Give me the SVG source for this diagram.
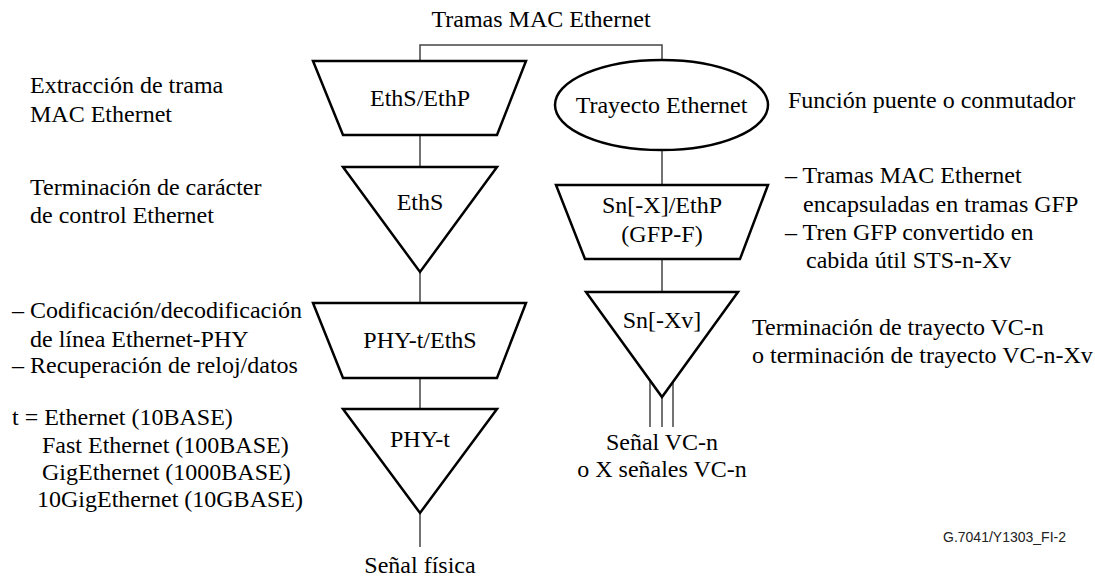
<svg xmlns="http://www.w3.org/2000/svg" width="1095" height="578" viewBox="0 0 1095 578">
<style>
.s{fill:#fff;stroke:#000;stroke-width:2.5;stroke-linejoin:miter}
.c{fill:none;stroke:#444;stroke-width:1.5}
.t{font-family:'Liberation Serif',Tinos,'Times New Roman',Times,'DejaVu Serif','Noto Serif',serif;font-size:24px;fill:#000}
.m{text-anchor:middle}
.f{font-family:'Liberation Sans',Arial,sans-serif;font-size:14px;fill:#222}
</style>
<rect width="1095" height="578" fill="#fff"/>
<g id="connectors">
<polyline class="c" points="420,61 420,45 662,45 662,60"/>
<line class="c" x1="420" y1="135" x2="420" y2="167"/>
<line class="c" x1="420" y1="272" x2="420" y2="303"/>
<line class="c" x1="420" y1="378" x2="420" y2="409"/>
<line class="c" x1="420" y1="513" x2="420" y2="547"/>
<line class="c" x1="662" y1="150" x2="662" y2="185"/>
<line class="c" x1="662" y1="259" x2="662" y2="292"/>
<line class="c" x1="662" y1="397" x2="662" y2="427"/>
<line class="c" x1="650" y1="381" x2="650" y2="427"/>
<line class="c" x1="673" y1="381" x2="673" y2="427"/>
</g>
<g class="t">
<g id="top-label"><text class="m" x="541" y="27">Tramas MAC Ethernet</text></g>
<g id="ethS-ethP">
<polygon class="s" points="313,61 526,61 497,135 343,135"/>
<text class="m" x="420" y="106">EthS/EthP</text>
</g>
<g id="ethS">
<polygon class="s" points="343,167 497,167 420,272"/>
<text class="m" x="420" y="210">EthS</text>
</g>
<g id="phy-t-ethS">
<polygon class="s" points="313,303 526,303 497,378 343,378"/>
<text class="m" x="420" y="348">PHY-t/EthS</text>
</g>
<g id="phy-t">
<polygon class="s" points="343,409 497,409 420,513"/>
<text class="m" x="420" y="447">PHY-t</text>
</g>
<g id="trayecto">
<ellipse class="s" cx="661.5" cy="105" rx="106.5" ry="45"/>
<text class="m" x="661.5" y="113">Trayecto Ethernet</text>
</g>
<g id="sn-ethP">
<polygon class="s" points="556,185 768,185 740,259 585,259"/>
<text class="m" x="662" y="213">Sn[-X]/EthP</text>
<text class="m" x="662" y="242">(GFP-F)</text>
</g>
<g id="sn-xv">
<polygon class="s" points="586,292 738,292 662,397"/>
<text class="m" x="662" y="328">Sn[-Xv]</text>
</g>
<g id="labels">
<text x="30" y="93">Extracción de trama</text>
<text x="30" y="122">MAC Ethernet</text>
<text x="30" y="195">Terminación de carácter</text>
<text x="30" y="223">de control Ethernet</text>
<text x="12" y="318">– Codificación/decodificación</text>
<text x="30" y="347">de línea Ethernet-PHY</text>
<text x="12" y="373">– Recuperación de reloj/datos</text>
<text x="12" y="425">t = Ethernet (10BASE)</text>
<text x="42" y="453">Fast Ethernet (100BASE)</text>
<text x="42" y="480">GigEthernet (1000BASE)</text>
<text x="37" y="507">10GigEthernet (10GBASE)</text>
<text class="m" x="420" y="573">Señal física</text>
<text x="788" y="108">Función puente o conmutador</text>
<text x="785" y="183">– Tramas MAC Ethernet</text>
<text x="803" y="212">encapsuladas en tramas GFP</text>
<text x="785" y="240">– Tren GFP convertido en</text>
<text x="806" y="268">cabida útil STS-n-Xv</text>
<text x="752" y="335">Terminación de trayecto VC-n</text>
<text x="752" y="363">o terminación de trayecto VC-n-Xv</text>
<text class="m" x="662" y="450">Señal VC-n</text>
<text class="m" x="662" y="477">o X señales VC-n</text>
</g>
</g>
<text class="f" x="943" y="542">G.7041/Y1303_FI-2</text>
</svg>
